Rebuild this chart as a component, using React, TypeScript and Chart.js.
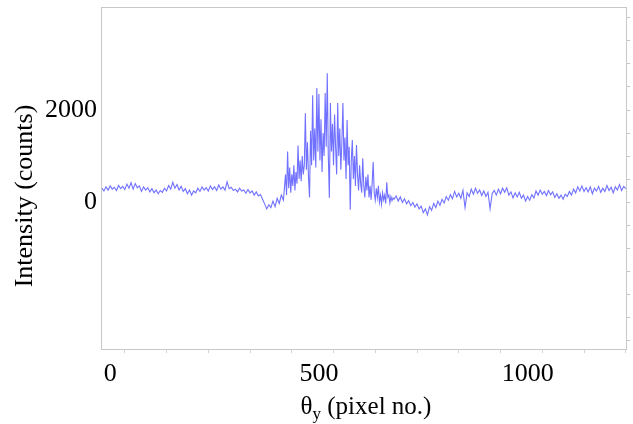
import React, { useEffect, useRef } from "react";
import { Chart, registerables } from "chart.js";

Chart.register(...registerables);

// ---- axis ranges and tick values ----
const X_MIN = -22;
const X_MAX = 1238;
const Y_MIN = -3217;
const Y_MAX = 4239;
const xLabelValues = [0, 500, 1000];
const xMinorTicks = [35, 135, 235, 335, 435, 535, 635, 735, 835, 935, 1035, 1135, 1235];
const yLabelValues = [0, 2000];
const yMinorTicks = [-3000, -2500, -2000, -1500, -1000, -500, 0, 500, 1000, 1500, 2000, 2500, 3000, 3500, 4000];

// ---- titles ----
const xTitleMain = "θ";
const xTitleSub = "y";
const xTitleRest = " (pixel no.)";
const yTitle = "Intensity (counts)";

// ---- data (pixel no. vs intensity counts) in segments ----
const leftStart = -20;
const leftStep = 5;
const leftValues = [
  300, 240, 330, 260, 350, 280, 320, 250, 360, 290, 340, 270, 390, 300, 420, 280,
  400, 310, 350, 230, 330, 260, 310, 220, 290, 200, 260, 180, 250, 210, 300, 240,
  360, 280, 430, 300, 380, 260, 340, 230, 290, 180, 260, 150, 240, 200, 300, 230,
  330, 260, 310, 240, 350, 270, 330, 250, 370, 280, 330, 260, 440, 290, 320, 250,
];

const dipStart = 300;
const dipStep = 5;
const dipValues = [
  280, 220, 300, 240, 260, 190, 270, 200, 240, 150, 220, 130, 160, 60, -40, -150,
  -60, -120, 20, -100, 80, -30, 150, 40,
];

const peakStart = 420;
const peakStep = 2.5;
const peakValues = [
  600, 150, 1100, 300, 750, 200, 600, 350, 800, 250, 650, 400, 1230, 500, 900, 450,
  1000, 600, 800, 1930, 700, 1300, 550, 100, 1550, 800, 2320, 900, 1600, 750, 2480, 1100,
  2350, 900, 1800, 650, 1500, 1000, 2370, 1200, 2800, 1000, 90, 2150, 1100, 1700, 800, 1900,
  1200, 600, 2150, 1000, 1600, 700, 1300, 2150, 900, 1400, 500, 1780, 800, 1200, -170, 900,
  1350, 500, 1000, 350, 1240, 600, 250, 800, 400, 200, 950, 350, 100, 550, 250, 600,
  100, 350, 50, 400, 870, 200, 40, 300, 100, 350, 0, 150, -50, 200, 50, 150,
  -30, 430, 100, 150, -20, 120, 30, 90,
];

const rightStart = 680;
const rightStep = 5;
const rightValues = [
  60, 130, 20, 110, -10, 70, -40, 30, -80, -10, -110, -40, -150, -90, -230, -150,
  -280, -100, -180, -30, -120, 20, -70, 60, -20, 120, 40, 160, 70, 230, 110, 190,
  80, 250, -120, 200, 120, 280, 170, 300, 190, 260, 140, 240, 120, 210, -150, 180,
  250, 150, 280, 180, 300, 210, 310, 150, 220, 90, 200, 110, 210, 80, 150, 20,
  120, 40, 160, 90, 240, 150, 260, 170, 230, 140, 250, 160, 220, 100, 180, 80,
  150, 60, 170, 120, 230, 150, 280, 200, 330, 240, 350, 230, 310, 220, 330, 180,
  300, 240, 340, 210, 300, 230, 360, 250, 320, 200, 330, 260, 380, 250, 340, 290,
];

const FONT = "'Liberation Serif', 'Times New Roman', serif";

function buildPoints() {
  const pts: { x: number; y: number }[] = [];
  const add = (start: number, step: number, vals: number[]) =>
    vals.forEach((v, i) => pts.push({ x: start + i * step, y: v }));
  add(leftStart, leftStep, leftValues);
  add(dipStart, dipStep, dipValues);
  add(peakStart, peakStep, peakValues);
  add(rightStart, rightStep, rightValues);
  return pts;
}

const framePlugin = {
  id: "frameAndTitles",
  afterDraw(chart: any) {
    const { ctx, chartArea: a } = chart;
    ctx.save();
    ctx.strokeStyle = "#c8c8c8";
    ctx.lineWidth = 1;
    ctx.strokeRect(a.left + 0.5, a.top + 0.5, a.right - a.left - 1, a.bottom - a.top - 1);

    ctx.fillStyle = "#000";
    // y title
    ctx.save();
    ctx.translate(32, 196);
    ctx.rotate(-Math.PI / 2);
    ctx.font = `26px ${FONT}`;
    ctx.textAlign = "center";
    ctx.textBaseline = "alphabetic";
    ctx.fillText(yTitle, 0, 0);
    ctx.restore();

    // x title with subscript
    const mainFont = `25px ${FONT}`;
    const subFont = `17px ${FONT}`;
    ctx.textBaseline = "alphabetic";
    ctx.textAlign = "left";
    ctx.font = mainFont;
    const w1 = ctx.measureText(xTitleMain).width;
    const w3 = ctx.measureText(xTitleRest).width;
    ctx.font = subFont;
    const w2 = ctx.measureText(xTitleSub).width;
    const total = w1 + w2 + w3;
    const cx = 366;
    const base = 414;
    let x0 = cx - total / 2;
    ctx.font = mainFont;
    ctx.fillText(xTitleMain, x0, base);
    x0 += w1;
    ctx.font = subFont;
    ctx.fillText(xTitleSub, x0, base + 5);
    x0 += w2;
    ctx.font = mainFont;
    ctx.fillText(xTitleRest, x0, base);
    ctx.restore();
  },
};

export default function App() {
  const ref = useRef<HTMLCanvasElement | null>(null);

  useEffect(() => {
    if (!ref.current) return;
    const chart = new Chart(ref.current, {
      type: "line",
      data: {
        datasets: [
          {
            data: buildPoints(),
            borderColor: "rgba(40,40,255,0.66)",
            borderWidth: 1.1,
            pointRadius: 0,
            tension: 0,
            fill: false,
          },
        ],
      },
      options: {
        animation: false,
        responsive: false,
        maintainAspectRatio: false,
        layout: { padding: { top: 7, left: 0, right: 0, bottom: 0 } },
        plugins: {
          legend: { display: false },
          tooltip: { enabled: false },
          title: { display: false },
        },
        scales: {
          x: {
            type: "linear",
            position: "bottom",
            min: X_MIN,
            max: X_MAX,
            afterBuildTicks: (scale: any) => {
              const vals = [...xLabelValues, ...xMinorTicks].sort((p, q) => p - q);
              scale.ticks = vals.map((v) => ({ value: v }));
            },
            afterFit: (scale: any) => {
              scale.height = 74;
              scale.paddingLeft = 0;
              scale.paddingRight = 0;
            },
            ticks: {
              autoSkip: false,
              maxRotation: 0,
              padding: 6,
              color: "#000",
              font: { family: FONT, size: 26 },
              callback: (v: any) => (xLabelValues.includes(Number(v)) ? String(v) : ""),
            },
            grid: {
              drawOnChartArea: false,
              drawTicks: true,
              tickLength: 3,
              color: (c: any) =>
                c.tick && xLabelValues.includes(c.tick.value) ? "rgba(0,0,0,0)" : "#d4d4d4",
            },
            border: { display: false },
          },
          y: {
            type: "linear",
            position: "left",
            min: Y_MIN,
            max: Y_MAX,
            afterBuildTicks: (scale: any) => {
              scale.ticks = yLabelValues.map((v) => ({ value: v }));
            },
            afterFit: (scale: any) => {
              scale.width = 101;
              scale.paddingTop = 0;
              scale.paddingBottom = 0;
            },
            ticks: {
              autoSkip: false,
              padding: 4,
              labelOffset: 0,
              color: "#000",
              font: { family: FONT, size: 26 },
              callback: (v: any) => String(v),
            },
            grid: { drawOnChartArea: false, drawTicks: false },
            border: { display: false },
          },
          y2: {
            type: "linear",
            position: "right",
            min: Y_MIN,
            max: Y_MAX,
            afterBuildTicks: (scale: any) => {
              scale.ticks = yMinorTicks.map((v) => ({ value: v }));
            },
            afterFit: (scale: any) => {
              scale.width = 6;
              scale.paddingTop = 0;
              scale.paddingBottom = 0;
            },
            ticks: { display: false },
            grid: { drawOnChartArea: false, drawTicks: true, tickLength: 3, color: "#c4c4c4" },
            border: { display: false },
          },
        },
      },
      plugins: [framePlugin],
    } as any);
    return () => chart.destroy();
  }, []);

  return (
    <div style={{ position: "fixed", left: 0, top: 0, width: 633, height: 424, background: "#fff" }}>
      <canvas ref={ref} width={633} height={424} style={{ width: 633, height: 424, display: "block" }} />
    </div>
  );
}
